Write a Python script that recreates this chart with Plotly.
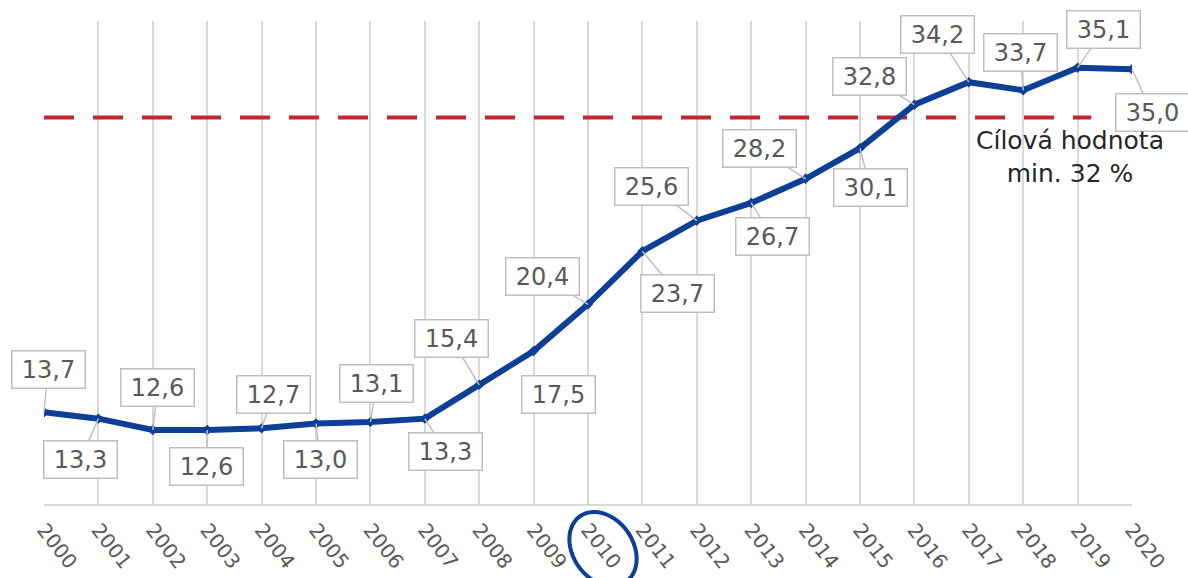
import numpy as np
import plotly.graph_objects as go

years = list(range(2000, 2021))
values = [13.7, 13.3, 12.6, 12.6, 12.7, 13.0, 13.1, 13.3, 15.4, 17.5, 20.4,
          23.7, 25.6, 26.7, 28.2, 30.1, 32.8, 34.2, 33.7, 35.1, 35.0]
target_value = 32
target_text = "Cílová hodnota<br>min. 32 %"
highlight_year = 2010

# label box offsets (pixels) relative to each point
label_dx = [4, -18, 5, -1, 12, 4, 6, 21, -28, 25, -46, 35, -45, 21, -46, 10, -45, -31, -3, 26, 20]
label_dy = [-43, 41, -42, 37, -34, 36, -38, 33, -46, 43, -28, 42, -34, 34, -30, 39, -28, -48, -38, -38, 43]

BLUE = "#0c3f95"
RED = "#c42630"
GRID = "#d9d9d9"
TXT = "#595959"
FONT = "DejaVu Sans"

W, H = 1188, 578
L, R, T, B = 44, 56, 21, 74
PW, PH = W - L - R, H - T - B

fig = go.Figure()

fig.add_trace(go.Scatter(
    x=[years[0], 2019.25], y=[target_value, target_value], mode="lines",
    line=dict(color=RED, width=4, dash="30px,19px"), hoverinfo="skip", showlegend=False))

fig.add_trace(go.Scatter(
    x=years, y=values, mode="lines+markers",
    line=dict(color=BLUE, width=6),
    marker=dict(symbol="diamond", size=8, color=BLUE),
    showlegend=False))

for yr, v, dx, dy in zip(years, values, label_dx, label_dy):
    fig.add_annotation(
        x=yr, y=v, xref="x", yref="y",
        text=f"{v:.1f}".replace(".", ","),
        showarrow=True, arrowhead=0, arrowwidth=1.5, arrowcolor="#bfbfbf",
        ax=dx, ay=dy, standoff=0,
        bgcolor="white", bordercolor="#bfbfbf", borderwidth=1.5, borderpad=3,
        width=66, height=30,
        font=dict(family=FONT, size=24, color=TXT))

fig.add_annotation(
    x=2018.86, y=29.55, xref="x", yref="y", text=target_text, showarrow=False,
    font=dict(family=FONT, size=25, color="#262626"), align="center")

# ellipse around highlighted year label (pixel geometry -> paper coords)
cx, cy, a, b, th = 603, 549, 40, 30, np.deg2rad(55)
t = np.linspace(0, 2 * np.pi, 120)
px = cx + a * np.cos(t) * np.cos(th) - b * np.sin(t) * np.sin(th)
py = cy + a * np.cos(t) * np.sin(th) + b * np.sin(t) * np.cos(th)
xp = (px - L) / PW
yp = (H - B - py) / PH
path = "M " + " L ".join(f"{x:.5f},{y:.5f}" for x, y in zip(xp, yp)) + " Z"
fig.add_shape(type="path", path=path, xref="paper", yref="paper",
              line=dict(color=BLUE, width=4))

fig.update_layout(
    width=W, height=H,
    margin=dict(l=L, r=R, t=T, b=B, pad=0),
    paper_bgcolor="white", plot_bgcolor="white",
    xaxis=dict(range=[2000, 2020], tickmode="array", tickvals=years,
               ticktext=[str(y) for y in years], tickangle=52,
               showgrid=True, gridcolor=GRID, gridwidth=2,
               showline=True, linecolor=GRID, linewidth=2,
               ticks="", ticklabelstandoff=4, automargin=False,
               tickfont=dict(family=FONT, size=20, color=TXT), zeroline=False),
    yaxis=dict(range=[8, 38], visible=False, showgrid=False, zeroline=False,
               automargin=False),
)

fig.write_html("out.html")
